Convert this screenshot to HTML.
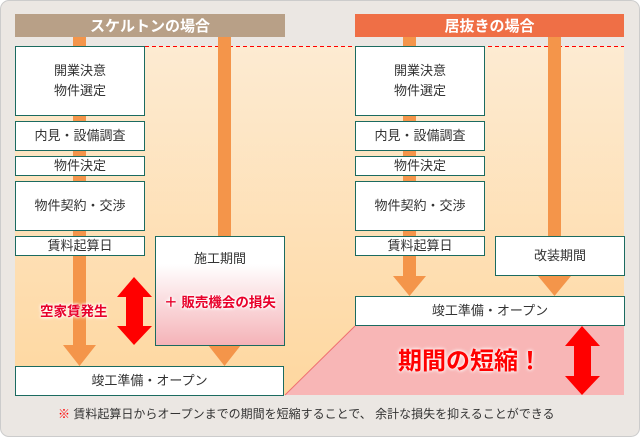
<!DOCTYPE html><html><head><meta charset="utf-8"><style>
body{margin:0;width:640px;height:437px;background:#fff;font-family:"Liberation Sans","Noto Sans CJK JP",sans-serif;}
.p{position:absolute;}
.box{position:absolute;background:#fff;border:1px solid #1b6b60;box-sizing:border-box;display:flex;align-items:center;justify-content:center;text-align:center;font-size:13px;color:#333;line-height:20px;}
.hd{position:absolute;top:14px;height:23px;color:#fff;font-size:15px;font-weight:bold;display:flex;align-items:center;justify-content:center;}
</style></head><body>
<div class="p" style="left:0;top:0;width:638px;height:435px;background:#ebe7e3;border:1px solid #ccc;border-radius:9px;"></div>
<div class="p" style="left:15px;top:46px;width:609px;height:349px;background:linear-gradient(#fdebd2,#fed79f);"></div>
<svg class="p" style="left:0;top:0" width="640" height="437">
<polygon points="285,395 355,326 624,326 624,395" fill="#f8b6b6"/>
<line x1="285" y1="395" x2="355" y2="326" stroke="#f07070" stroke-width="1"/>
<line x1="145" y1="46.5" x2="624" y2="46.5" stroke="#f00" stroke-dasharray="4,3"/>
<g fill="#f4954a">
<rect x="73" y="37" width="13" height="310"/><polygon points="63,345 96,345 79.5,366"/>
<rect x="218" y="37" width="13" height="310"/><polygon points="208,345 241,345 224.5,366"/>
<rect x="403" y="37" width="13" height="240"/><polygon points="393,276 426,276 409.5,296"/>
<rect x="548" y="37" width="13" height="240"/><polygon points="538,276 571,276 554.5,296"/>
</g>
<g fill="#f00">
<polygon points="134,277 152,297 143,297 143,326 152,326 134,345 117,326 126,326 126,297 117,297"/>
<polygon points="582,326 600,346 591,346 591,376 600,376 582,395 565,376 574,376 574,346 565,346"/>
</g>
</svg>
<div class="hd" style="left:15px;width:270px;background:#b8a087;">スケルトンの場合</div>
<div class="hd" style="left:355px;width:269px;background:#ef6f46;">居抜きの場合</div>

<div class="box" style="left:15px;top:46px;width:130px;height:70px;">開業決意<br>物件選定</div>
<div class="box" style="left:15px;top:121px;width:130px;height:30px;">内見・設備調査</div>
<div class="box" style="left:15px;top:156px;width:130px;height:20px;">物件決定</div>
<div class="box" style="left:15px;top:181px;width:130px;height:50px;">物件契約・交渉</div>
<div class="box" style="left:15px;top:236px;width:130px;height:20px;">賃料起算日</div>
<div class="box" style="left:155px;top:236px;width:130px;height:110px;background:linear-gradient(#fff 0%,#fff 25%,#f5b3b8 100%);display:block;">
<div style="margin-top:12px;">施工期間</div>
<div style="margin-top:24px;color:#e8002a;font-weight:bold;text-shadow:0 0 2px #fff,0 0 3px #fff,0 0 4px #fff;font-size:13.5px;">＋ 販売機会の損失</div></div>
<div class="p" style="left:40px;top:300px;color:#e8002a;font-weight:bold;font-size:13.5px;text-shadow:0 0 2px #fff,0 0 3px #fff,0 0 4px #fff;">空家賃発生</div>
<div class="box" style="left:15px;top:366px;width:269px;height:30px;">竣工準備・オープン</div>

<div class="box" style="left:355px;top:46px;width:130px;height:70px;">開業決意<br>物件選定</div>
<div class="box" style="left:355px;top:121px;width:130px;height:30px;">内見・設備調査</div>
<div class="box" style="left:355px;top:156px;width:130px;height:20px;">物件決定</div>
<div class="box" style="left:355px;top:181px;width:130px;height:50px;">物件契約・交渉</div>
<div class="box" style="left:355px;top:236px;width:130px;height:20px;">賃料起算日</div>
<div class="box" style="left:495px;top:236px;width:130px;height:40px;">改装期間</div>
<div class="box" style="left:355px;top:296px;width:270px;height:30px;">竣工準備・オープン</div>
<div class="p" style="left:398px;top:341px;color:#f00;font-weight:bold;font-size:24px;text-shadow:0 0 3px #fff,0 0 4px #fff;">期間の短縮！</div>
<div class="p" style="left:58px;top:405px;font-size:12px;color:#333;white-space:nowrap;"><span style="color:#f00">※</span> 賃料起算日からオープンまでの期間を短縮することで、 余計な損失を抑えることができる</div>
</body></html>
